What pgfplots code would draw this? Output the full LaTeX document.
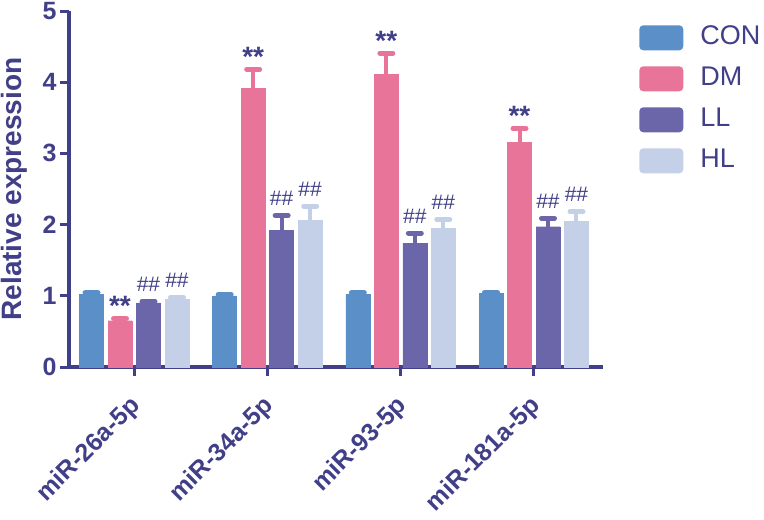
\documentclass[border=0pt]{standalone}
\usepackage{pgfplots}
\pgfplotsset{compat=1.18}
\usepackage{pgfplotstable}
\usepackage{fontspec}
\setmainfont{Liberation Sans}

\definecolor{navy}{HTML}{413F87}
\definecolor{ccon}{HTML}{5B8FC8}
\definecolor{cdm}{HTML}{E87499}
\definecolor{cll}{HTML}{6B66AA}
\definecolor{chl}{HTML}{C4D0E8}

% mean and upper error per group
\pgfplotstableread{
x y e
0 1.02 0.02
1 1.00 0.02
2 1.02 0.02
3 1.03 0.02
}\con
\pgfplotstableread{
x y e
0 0.65 0.03
1 3.91 0.27
2 4.11 0.30
3 3.16 0.19
}\dm
\pgfplotstableread{
x y e
0 0.90 0.02
1 1.92 0.21
2 1.74 0.14
3 1.97 0.12
}\ll
\pgfplotstableread{
x y e
0 0.95 0.03
1 2.06 0.20
2 1.95 0.12
3 2.05 0.13
}\hl

\pgfplotsset{
  bars/.style={ybar, bar width=0.18, bar shift=0pt, draw=#1, fill=#1,
    error bars/y dir=plus, error bars/y explicit,
    error bars/error bar style={line width=4pt, #1},
    error bars/error mark options={rotate=90, line width=5pt, mark size=6.5pt, line cap=round, #1}},
  marks/.style={only marks, mark=none, forget plot,
    nodes near coords={#1},
    every node near coord/.append style={anchor=base, text=navy}},
}

\begin{document}
\begin{tikzpicture}
\path[use as bounding box] (-69pt,-153pt) rectangle (695pt,367pt);
\begin{axis}[
  scale only axis, width=534pt, height=356pt,
  xmin=-0.49, xmax=3.52, ymin=0, ymax=5,
  axis lines=left,
  axis line style={-, line width=4pt, navy},
  ytick={0,1,2,3,4,5},
  xtick={0,1,2,3},
  xticklabels={miR-26a-5p,miR-34a-5p,miR-93-5p,miR-181a-5p},
  tick align=outside, major tick length=9pt,
  major tick style={line width=3pt, navy},
  /pgf/number format/assume math mode=true,
  ticklabel style={font=\bfseries\fontsize{25}{25}\selectfont, text=navy},
  xticklabel style={xshift=5pt, yshift=-24pt, rotate=45, anchor=east},
  ylabel={Relative expression},
  every axis y label/.style={at={(axis description cs:-0.103,0.5)}, rotate=90, anchor=center,
    font=\bfseries\fontsize{28}{28}\selectfont, text=navy},
  legend style={at={(axis description cs:1.062,0.966)}, anchor=north west,
    draw=none, fill=none, font=\fontsize{27}{27}\selectfont, text=navy,
    row sep=16pt, nodes={inner sep=0pt, text height=19pt, text depth=6pt},
    /tikz/every odd column/.append style={column sep=17pt}},
  legend cell align=left,
  legend image code/.code={\fill[#1, draw=none, rounded corners=4pt] (0pt,-12.5pt) rectangle (44pt,12.5pt);},
]
\addplot[bars=ccon] table[x expr=\thisrow{x}-0.321, y=y, y error=e] {\con};
\addplot[bars=cdm] table[x expr=\thisrow{x}-0.107, y=y, y error=e] {\dm};
\addplot[bars=cll] table[x expr=\thisrow{x}+0.107, y=y, y error=e] {\ll};
\addplot[bars=chl] table[x expr=\thisrow{x}+0.321, y=y, y error=e] {\hl};
\legend{CON,DM,LL,HL}

\addplot[marks={\fontsize{28}{28}\selectfont\bfseries **}, every node near coord/.append style={yshift=3pt}] table[x expr=\thisrow{x}-0.107, y expr=\thisrow{y}+\thisrow{e}] {\dm};
\addplot[marks={\fontsize{21}{21}\selectfont \#\#}, every node near coord/.append style={yshift=10pt}] table[x expr=\thisrow{x}+0.107, y expr=\thisrow{y}+\thisrow{e}] {\ll};
\addplot[marks={\fontsize{21}{21}\selectfont \#\#}, every node near coord/.append style={yshift=10pt}] table[x expr=\thisrow{x}+0.321, y expr=\thisrow{y}+\thisrow{e}] {\hl};
\end{axis}
\end{tikzpicture}
\end{document}
